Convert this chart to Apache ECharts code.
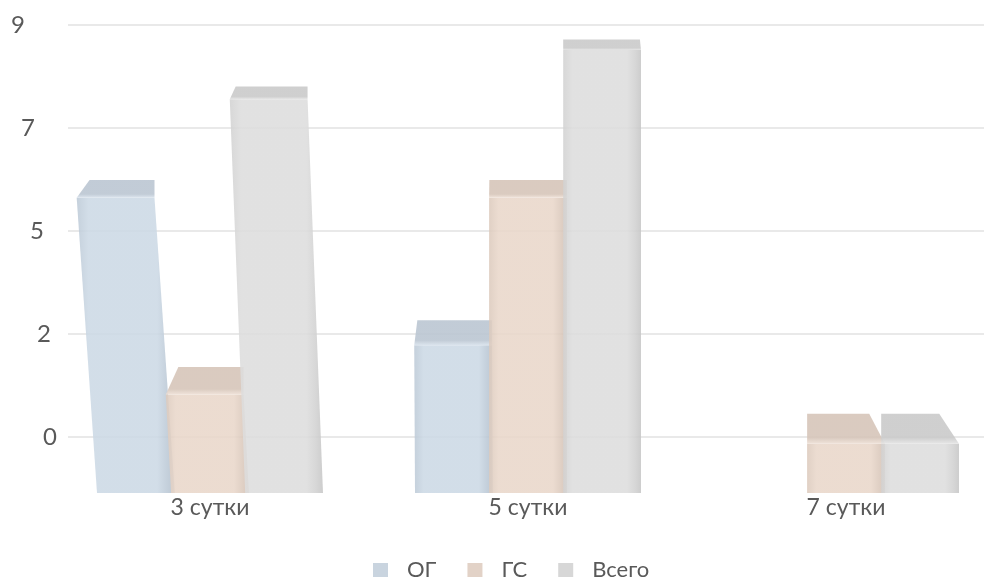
<!DOCTYPE html>
<html>
<head>
<meta charset="utf-8">
<script src="https://cdn.jsdelivr.net/npm/echarts@6/dist/echarts.min.js"></script>
<style>
  html, body { margin: 0; padding: 0; background: #ffffff; }
  #chart { width: 992px; height: 580px; }
</style>
</head>
<body>
<div id="chart"></div>
<script>
// ---- data ----
const categories = ['3 сутки', '5 сутки', '7 сутки'];
const seriesNames = ['ОГ', 'ГС', 'Всего'];
const ogValues = [6, 3, null];
const gsValues = [2, 6, 1];
const totalValues = [8, 9, 1];
const yTickLabels = ['0', '2', '5', '7', '9'];
const yMin = 0, yMax = 9, yInterval = 2.25;

// ---- styles ----
const FONT = 'Lato, "Open Sans", sans-serif';
const TEXT = '#595959';
const palette = [
  { legend: '#C9D4DF', edge: '#BDCAD7', mid: '#CCD9E5', right: '#B3C0CD', topBack: '#BBC6D2', topFront: '#D8E2EC' },
  { legend: '#E2D2C7', edge: '#DCCABD', mid: '#E9D7CA', right: '#D2BFB2', topBack: '#D6C5B9', topFront: '#EEE0D6' },
  { legend: '#D7D7D7', edge: '#D2D2D2', mid: '#DDDDDD', right: '#C6C6C6', topBack: '#CACACA', topFront: '#E4E4E4' }
];
const seriesValues = [ogValues, gsValues, totalValues];

function makeRender(sIdx) {
  const c = palette[sIdx];
  return function (params, api) {
    const v = api.value(1);
    if (v == null || isNaN(v) || v <= 0) return;
    const cat = api.value(0);
    const base = api.coord([cat, 0]);
    const top = api.coord([cat, v]);
    const band = api.size([1, 0])[0];
    const slot = band * 0.233;
    const w = slot * 1.05;
    const cx = base[0] + (sIdx - 1) * slot;
    const bl = cx - w / 2, br = cx + w / 2;
    const yTop = top[1], yBase = base[1];
    const h = yBase - yTop;
    // perspective styling: tall bars on the left lean to the left at the top
    const lean = Math.max(0, 480 - cx) * 0.0002 * h;
    const xl = bl - lean, xr = br - lean;
    const t = 7.9 + 0.0498 * yTop;
    const dxl = Math.max(0, 496 - xl) * 0.038 * Math.min(1, t / 22);
    const dxr = -Math.max(0, xr - 600) * 0.055 * Math.min(1, t / 22);
    return {
      type: 'group',
      children: [
        {
          type: 'polygon',
          shape: { points: [[xl, yTop], [xr, yTop], [br, yBase], [bl, yBase]] },
          style: {
            fill: {
              type: 'linear', x: 0, y: 0, x2: 1, y2: 0,
              colorStops: [
                { offset: 0, color: c.edge },
                { offset: 0.12, color: c.mid },
                { offset: 0.82, color: c.mid },
                { offset: 0.92, color: c.edge },
                { offset: 1, color: c.right }
              ]
            },
            opacity: 0.88
          }
        },
        {
          type: 'polygon',
          shape: { points: [[xl, yTop], [xr, yTop], [xr + dxr, yTop - t], [xl + dxl, yTop - t]] },
          style: {
            fill: {
              type: 'linear', x: 0, y: 0, x2: 0, y2: 1,
              colorStops: [
                { offset: 0, color: c.topBack },
                { offset: 0.8, color: c.topBack },
                { offset: 1, color: c.topFront }
              ]
            },
            opacity: 0.9
          }
        }
      ]
    };
  };
}

const labelPad = [0, 6, 13, 22, 32];
const rich = {};
labelPad.forEach((p, i) => {
  rich['p' + i] = { fontSize: 24, fontFamily: FONT, color: TEXT, padding: [0, p, 0, 0] };
});

const chart = echarts.init(document.getElementById('chart'), null, { renderer: 'canvas' });
chart.setOption({
  animation: false,
  backgroundColor: '#ffffff',
  textStyle: { fontFamily: FONT },
  grid: [
    { left: 68, top: 25, width: 916, height: 412, outerBoundsMode: 'none' },
    { left: 51, top: 50, width: 954, height: 443, outerBoundsMode: 'none' }
  ],
  xAxis: [
    { gridIndex: 0, type: 'category', data: categories, show: false },
    {
      gridIndex: 1, type: 'category', data: categories,
      axisLine: { show: false }, axisTick: { show: false },
      axisLabel: { fontSize: 23, fontFamily: FONT, color: TEXT, margin: 3 }
    }
  ],
  yAxis: [
    {
      gridIndex: 0, type: 'value', min: yMin, max: yMax, interval: yInterval,
      axisLine: { show: false }, axisTick: { show: false },
      splitLine: { show: true, lineStyle: { color: '#E9E9E9', width: 2 } },
      axisLabel: {
        margin: 11,
        formatter: function (val) {
          const idx = Math.round((val - yMin) / yInterval);
          return '{p' + idx + '|' + yTickLabels[idx] + '}';
        },
        rich: rich
      }
    },
    { gridIndex: 1, type: 'value', min: yMin, max: yMax, show: false, splitLine: { show: false } }
  ],
  legend: {
    top: 554, left: 368,
    icon: 'rect', itemWidth: 15, itemHeight: 14, itemGap: 31,
    textStyle: { fontSize: 22, fontFamily: FONT, color: TEXT, padding: [0, 0, 0, 14] },
    data: seriesNames
  },
  series: seriesNames.map((name, sIdx) => ({
    name: name,
    type: 'custom',
    xAxisIndex: 1, yAxisIndex: 1,
    itemStyle: { color: palette[sIdx].legend },
    renderItem: makeRender(sIdx),
    data: categories.map((c, i) => [i, seriesValues[sIdx][i]])
  }))
});
</script>
</body>
</html>
